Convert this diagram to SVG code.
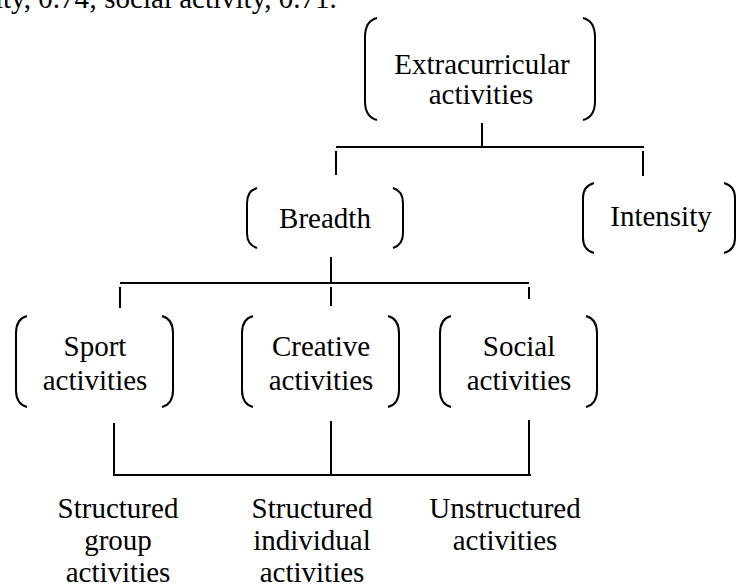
<svg xmlns="http://www.w3.org/2000/svg" width="736" height="588" viewBox="0 0 736 588">
<style>
text{font-family:"Liberation Serif","Times New Roman",serif;font-size:29px;fill:#000;text-anchor:middle}
.br{fill:none;stroke:#000;stroke-width:2}
.ln{fill:none;stroke:#000;stroke-width:2}
</style>
<rect width="736" height="588" fill="#fff"/>
<text x="-5" y="8" style="text-anchor:start">ity, 0.74; social activity, 0.71.</text>
<g id="n-extra">
<path class="br" d="M377,18 Q365,21 365,37 L365,101 Q365,117 377,120"/>
<path class="br" d="M583,18 Q595,21 595,37 L595,101 Q595,117 583,120"/>
<text x="482" y="74">Extracurricular</text>
<text x="481" y="104">activities</text>
</g>
<g id="n-breadth">
<path class="br" d="M257,188 Q247,191 247,203 L247,233 Q247,245 257,248"/>
<path class="br" d="M393,188 Q403,191 403,203 L403,233 Q403,245 393,248"/>
<text x="325" y="228">Breadth</text>
</g>
<g id="n-intensity">
<path class="br" d="M594,183 Q583,186 583,198 L583,238 Q583,250 594,253"/>
<path class="br" d="M724,183 Q735,186 735,198 L735,238 Q735,250 724,253"/>
<text x="661" y="226">Intensity</text>
</g>
<g id="n-sport">
<path class="br" d="M27,316 Q16,319 16,333 L16,390 Q16,404 27,407"/>
<path class="br" d="M162,316 Q173,319 173,333 L173,390 Q173,404 162,407"/>
<text x="95" y="356">Sport</text>
<text x="95" y="390">activities</text>
</g>
<g id="n-creative">
<path class="br" d="M253,316 Q242,319 242,333 L242,390 Q242,404 253,407"/>
<path class="br" d="M388,316 Q399,319 399,333 L399,390 Q399,404 388,407"/>
<text x="321" y="356">Creative</text>
<text x="321" y="390">activities</text>
</g>
<g id="n-social">
<path class="br" d="M451,316 Q440,319 440,333 L440,390 Q440,404 451,407"/>
<path class="br" d="M586,316 Q597,319 597,333 L597,390 Q597,404 586,407"/>
<text x="519" y="356">Social</text>
<text x="519" y="390">activities</text>
</g>
<g id="n-sga">
<text x="118" y="518">Structured</text>
<text x="118" y="550">group</text>
<text x="118" y="582">activities</text>
</g>
<g id="n-sia">
<text x="312" y="518">Structured</text>
<text x="312" y="550">individual</text>
<text x="312" y="582">activities</text>
</g>
<g id="n-ua">
<text x="505" y="518">Unstructured</text>
<text x="505" y="550">activities</text>
</g>
<g id="connectors">
<path class="ln" d="M482,123 V147 M336,147 H644 M336,151 V175 M643,151 V176"/>
<path class="ln" d="M331,257 V283 M120,283 H529 M120,287 V308 M331,287 V306 M529,287 V299"/>
<path class="ln" d="M114,423 V474 M331,421 V474 M529,420 V474 M113,475 H531"/>
</g>
</svg>
